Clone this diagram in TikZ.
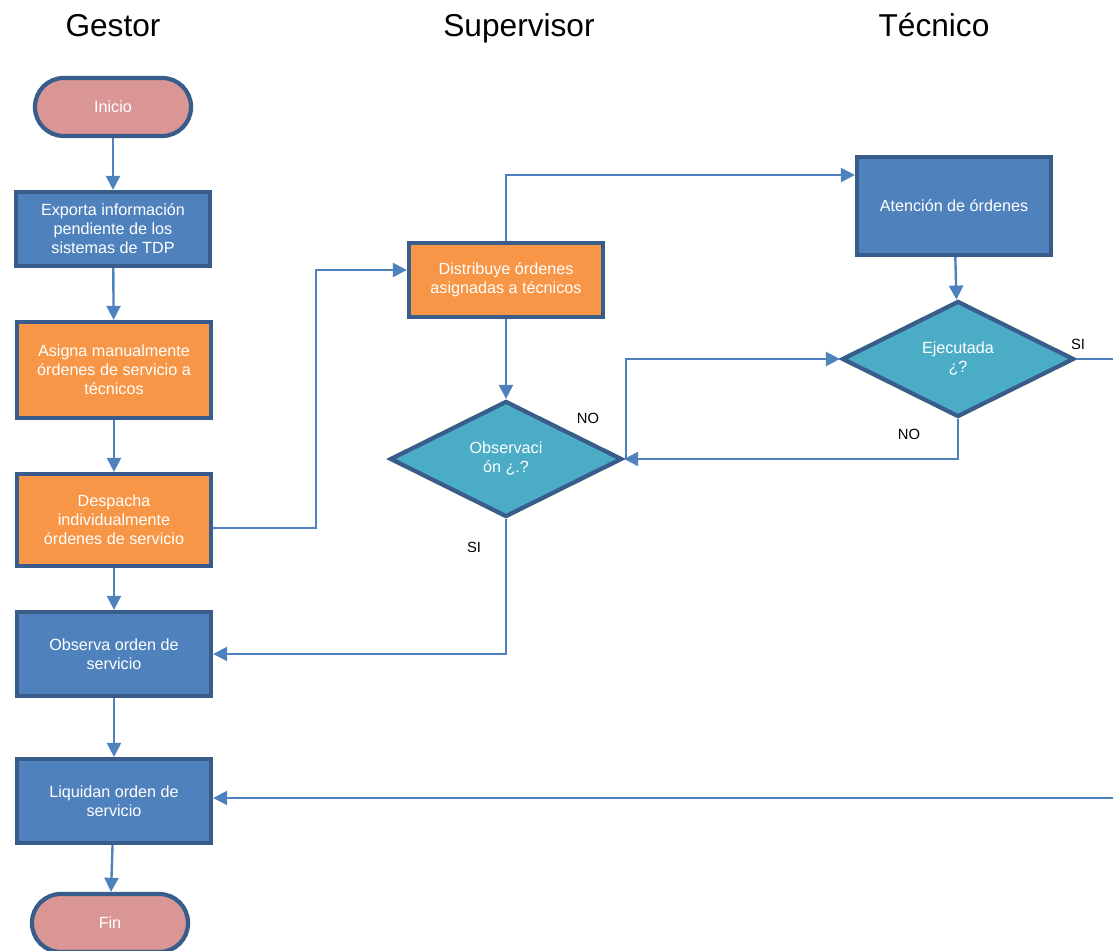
\documentclass[tikz,border=0pt]{standalone}
\usepackage{fontspec}
\setmainfont{Liberation Sans}
\usetikzlibrary{arrows.meta,shapes.geometric}
\definecolor{boxblue}{HTML}{4F81BD}
\definecolor{boxline}{HTML}{385D8A}
\definecolor{boxorange}{HTML}{F79646}
\definecolor{boxpink}{HTML}{D99694}
\definecolor{boxteal}{HTML}{4BACC6}
\tikzset{
	proc/.style={draw=boxline, line width=3pt, fill=boxblue, text=white, align=center,
		minimum width=4.85cm, minimum height=2.1cm, inner sep=2pt, font=\fontsize{11.5}{13.5}\selectfont},
	procor/.style={proc, fill=boxorange},
	term/.style={draw=boxline, line width=3pt, fill=boxpink, text=white, rounded corners=0.72cm,
		minimum width=3.9cm, minimum height=1.45cm, font=\fontsize{11.5}{13.5}\selectfont},
	decide/.style={diamond, draw=boxline, line width=3pt, fill=boxteal, text=white, align=center,
		minimum width=5.8cm, minimum height=2.9cm, inner sep=0pt, font=\fontsize{11.5}{13.5}\selectfont},
	flow/.style={draw=boxblue, line width=1.7pt, -{Triangle[length=10pt,width=10pt]}},
	lane/.style={anchor=base, font=\fontsize{22.5}{26}\selectfont},
	lbl/.style={font=\fontsize{10.5}{12}\selectfont}
}
\begin{document}
\begin{tikzpicture}[x=0.025cm, y=-0.025cm]
		%%%%% START %%%%%
		\clip (0, 0) rectangle (1113, 951);
		
		\node[lane] (gestor) at (113, 37) {Gestor};
		\node[lane] (superv) at (519, 37) {Supervisor};
		\node[lane] (tecnico) at (934, 37) {Técnico};
		
		% gestor
		\node[term] (inicio) at (113, 107) {Inicio};
		\node[proc, minimum height=1.85cm] (exporta) at (113, 229) {Exporta información\\pendiente de los\\sistemas de TDP};
		\node[procor, minimum height=2.4cm] (asigna) at (114, 370) {Asigna manualmente\\órdenes de servicio a\\técnicos};
		\node[procor, minimum height=2.3cm] (despacha) at (114, 520) {Despacha\\individualmente\\órdenes de servicio};
		\node[proc] (observa) at (114, 654) {Observa orden de\\servicio};
		\node[proc] (liquidan) at (114, 801) {Liquidan orden de\\servicio};
		\node[term] (fin) at (110, 923) {Fin};
		
		% supervisor
		\node[procor, minimum height=1.85cm] (distribuye) at (506, 280) {Distribuye órdenes\\asignadas a técnicos};
		\node[decide] (observacion) at (506, 459) {Observaci\\ón ¿.?};
		
		% tecnico
		\node[proc, minimum height=2.45cm] (atencion) at (954, 206) {Atención de órdenes};
		\node[decide] (ejecutada) at (958, 359) {Ejecutada\\¿?};
		
		\coordinate (edge) at (1118, 359);
		
		\draw[flow] (inicio) -- (exporta);
		\draw[flow] (exporta) -- (asigna);
		\draw[flow] (asigna) -- (despacha);
		\draw[flow] (despacha) -- (observa);
		\draw[flow] (observa) -- (liquidan);
		\draw[flow] (liquidan) -- (fin);
		
		\draw[flow] (despacha.east |- 0, 528) -- (316, 528) |- (distribuye.west |- 0, 270);
		\draw[flow] (distribuye.north) |- (atencion.west |- 0, 175);
		\draw[flow] (distribuye) -- (observacion);
		\draw[flow] (observacion.south) |- (observa.east);
		\draw[flow] (observacion.east) -- ++(2, 0) |- (ejecutada.west);
		\draw[flow] (atencion) -- (ejecutada);
		\draw[flow] (ejecutada.south) |- (observacion.east);
		\draw[flow] (ejecutada.east) -- (edge) |- (liquidan.east |- 0, 798);
		
		\node[lbl] (no1) at (588, 418) {NO};
		\node[lbl] (si1) at (474, 547) {SI};
		\node[lbl] (no2) at (909, 434) {NO};
		\node[lbl] (si2) at (1078, 344) {SI};
		%%%%% END %%%%%
	\end{tikzpicture}
\end{document}
